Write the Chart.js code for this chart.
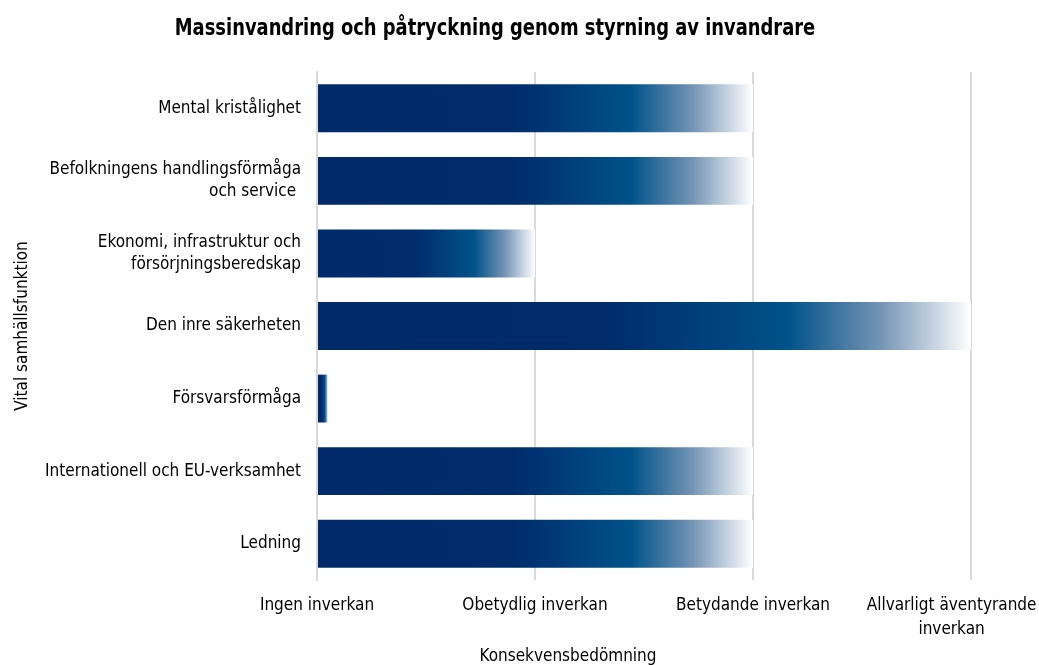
<!DOCTYPE html>
<html>
<head>
<meta charset="utf-8">
<script src="https://cdn.jsdelivr.net/npm/chart.js@4/dist/chart.umd.min.js"></script>
<style>
  html, body { margin: 0; padding: 0; background: #fff; }
  #wrap { width: 1039px; height: 665px; position: relative; }
</style>
</head>
<body>
<div id="wrap"><canvas id="c" width="1039" height="665"></canvas></div>
<script>
const chartTitle = "Massinvandring och påtryckning genom styrning av invandrare";
const categories = [
  ["Mental kristålighet"],
  ["Befolkningens handlingsförmåga", "och service "],
  ["Ekonomi, infrastruktur och", "försörjningsberedskap"],
  ["Den inre säkerheten"],
  ["Försvarsförmåga"],
  ["Internationell och EU-verksamhet"],
  ["Ledning"]
];
const values = [2, 2, 1, 3, 0.05, 2, 2];
const tickLabels = [
  ["Ingen inverkan"],
  ["Obetydlig inverkan"],
  ["Betydande inverkan"],
  ["Allvarligt äventyrande", "inverkan"]
];
const xAxisTitle = "Konsekvensbedömning";
const yAxisTitle = "Vital samhällsfunktion";

const FONT = "'Liberation Sans Narrow', 'DejaVu Sans Condensed', 'Arial Narrow', sans-serif";

function barGradient(context) {
  const chart = context.chart;
  const xs = chart.scales && chart.scales.x;
  if (!chart.chartArea || !xs || !context.parsed) return '#002a6a';
  const x0 = xs.getPixelForValue(0);
  const x1 = xs.getPixelForValue(context.parsed.x);
  if (Math.abs(x1 - x0) < 1) return '#002a6a';
  const g = chart.ctx.createLinearGradient(x0, 0, x1, 0);
  g.addColorStop(0, '#002a6a');
  g.addColorStop(0.45, '#002c6c');
  g.addColorStop(0.72, '#00528a');
  g.addColorStop(0.86, '#7393b4');
  g.addColorStop(1, '#ffffff');
  return g;
}

const overlay = {
  id: 'overlay',
  afterDraw(chart) {
    const ctx = chart.ctx;
    ctx.save();
    ctx.fillStyle = '#000';
    ctx.textAlign = 'center';
    ctx.textBaseline = 'middle';
    ctx.save();
    ctx.translate(495, 29);
    ctx.scale(0.865, 1);
    ctx.font = "bold 23px " + FONT;
    ctx.fillText(chartTitle, 0, 0);
    ctx.restore();
    ctx.font = "17px " + FONT;
    ctx.fillText(xAxisTitle, 568, 657);
    ctx.restore();
  }
};

new Chart(document.getElementById('c'), {
  type: 'bar',
  data: {
    labels: categories,
    datasets: [{
      data: values,
      backgroundColor: barGradient,
      borderWidth: 0,
      barPercentage: 1,
      categoryPercentage: 0.66
    }]
  },
  plugins: [overlay],
  options: {
    indexAxis: 'y',
    responsive: false,
    animation: false,
    layout: { padding: { top: 72, left: 0, right: 0, bottom: 0 } },
    plugins: {
      legend: { display: false },
      title: { display: false },
      tooltip: { enabled: false }
    },
    scales: {
      x: {
        min: 0,
        max: 3,
        ticks: {
          stepSize: 1,
          color: '#000',
          font: { family: FONT, size: 17, lineHeight: 1.4 },
          padding: 14,
          maxRotation: 0,
          autoSkip: false,
          callback: (v) => v === 3 ? tickLabels[v].map(s => s + '        ') : tickLabels[v]
        },
        grid: { color: '#d9d9d9', lineWidth: 2, drawTicks: false },
        border: { display: false },
        title: { display: false },
        afterFit(s) { s.height = 85; s.paddingRight = 68; s.paddingLeft = 0; }
      },
      y: {
        ticks: {
          color: '#000',
          font: { family: FONT, size: 17, lineHeight: 1.3 },
          padding: 16,
          autoSkip: false
        },
        grid: { display: false, drawTicks: false },
        border: { display: true, color: '#d9d9d9', width: 2 },
        title: {
          display: true,
          text: yAxisTitle,
          color: '#000',
          font: { family: FONT, size: 17 },
          padding: { top: 12, bottom: 0 }
        },
        afterFit(s) { s.width = 317; }
      }
    }
  }
});
</script>
</body>
</html>
